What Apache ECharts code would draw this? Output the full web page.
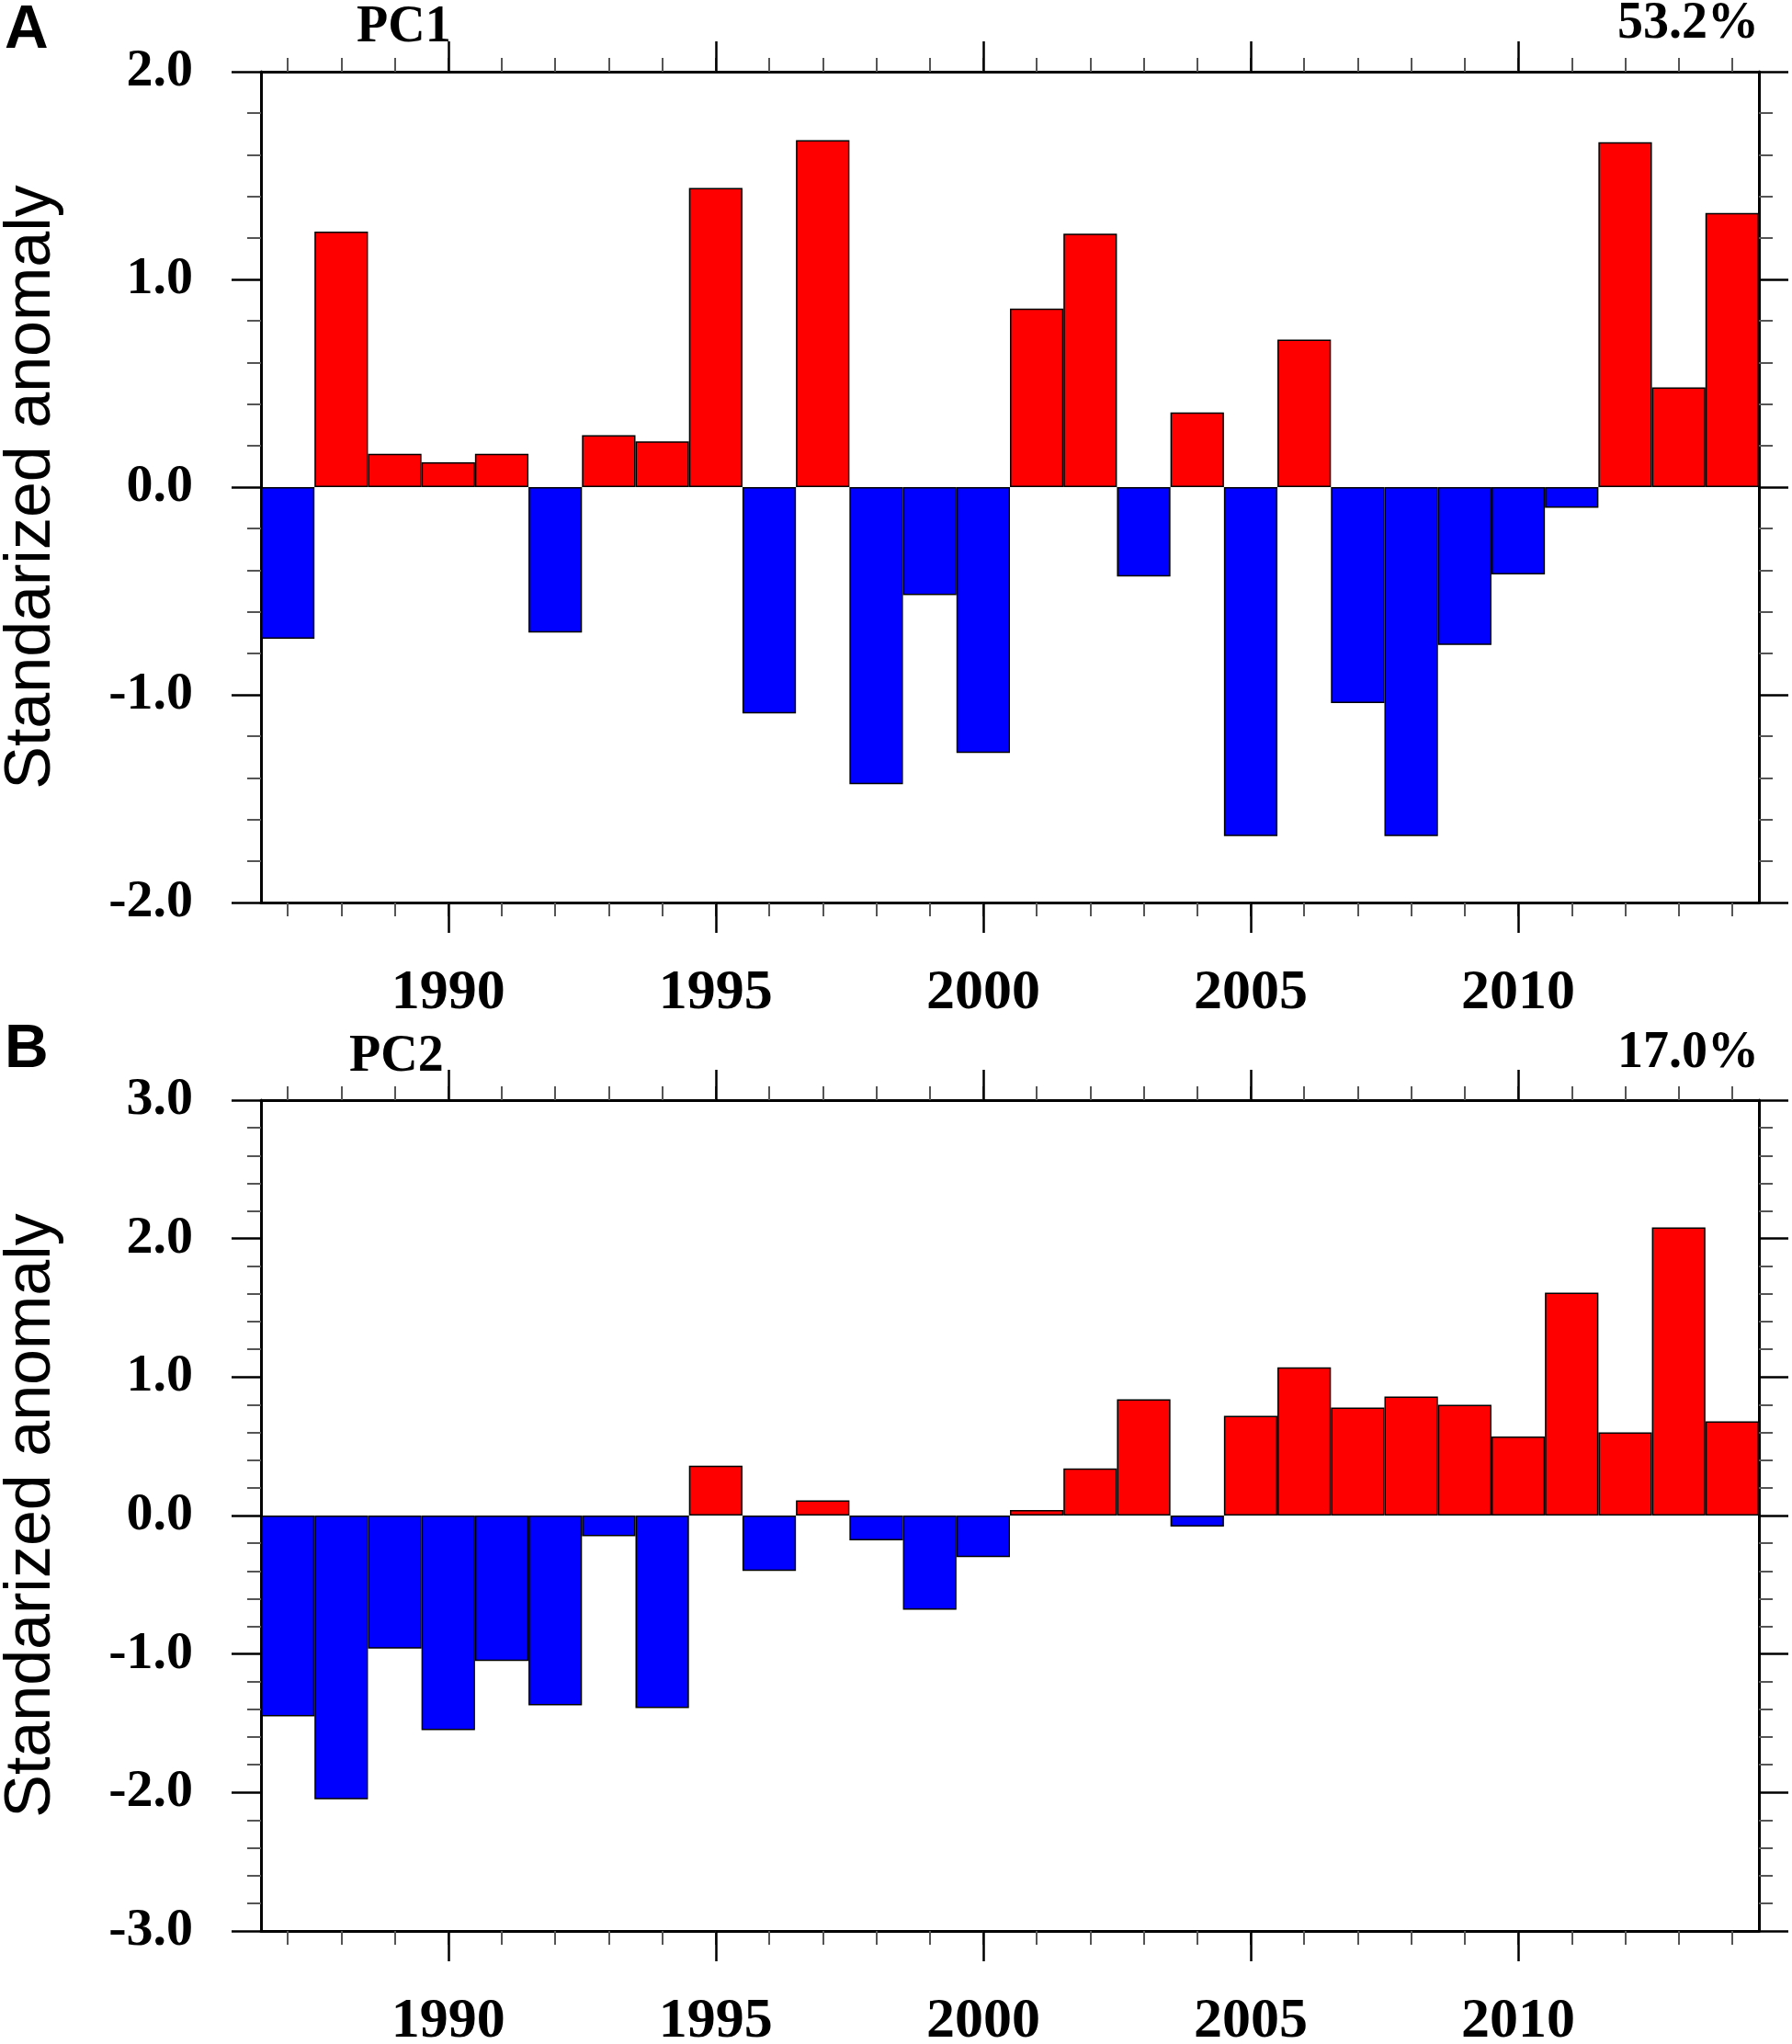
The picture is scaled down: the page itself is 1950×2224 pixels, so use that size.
<!DOCTYPE html>
<html><head><meta charset="utf-8">
<script src="https://cdn.jsdelivr.net/npm/echarts@6/dist/echarts.min.js"></script>
<style>html,body{margin:0;padding:0;background:#fff}#c{width:1950px;height:2224px}</style>
</head><body><div id="c"></div>
<script>
// ---- data ----
const years = [1987,1988,1989,1990,1991,1992,1993,1994,1995,1996,1997,1998,1999,2000,
               2001,2002,2003,2004,2005,2006,2007,2008,2009,2010,2011,2012,2013,2014];
const pc1 = [-0.73,1.23,0.16,0.12,0.16,-0.70,0.25,0.22,1.44,-1.09,1.67,-1.43,-0.52,-1.28,
             0.86,1.22,-0.43,0.36,-1.68,0.71,-1.04,-1.68,-0.76,-0.42,-0.10,1.66,0.48,1.32];
const pc2 = [-1.45,-2.05,-0.96,-1.55,-1.05,-1.37,-0.15,-1.39,0.36,-0.40,0.11,-0.18,-0.68,-0.30,
             0.04,0.34,0.84,-0.08,0.72,1.07,0.78,0.86,0.80,0.57,1.61,0.60,2.08,0.68];
const majorYears = [1990,1995,2000,2005,2010];
const panelLetters = ['A','B'];
const pcNames = ['PC1','PC2'];
const varianceLabels = ['53.2%','17.0%'];
const yRanges = [[-2,2],[-3,3]];
const yTitle = 'Standarized anomaly';
const series = [pc1, pc2];

// ---- layout ----
const gridTops = [78,1197];
const gridH = 904, gridL = 284, gridR = 36;
const serif = '"Liberation Serif","Times New Roman",serif';
const sans = '"Liberation Sans",Arial,sans-serif';
const isMajor = (i, v) => majorYears.indexOf(Number(v)) >= 0;

const grid = [], xAxis = [], yAxis = [], ser = [], graphic = [];
for (let p = 0; p < 2; p++) {
  const g = {left: gridL, right: gridR, top: gridTops[p], height: gridH,
             containLabel:false, outerBoundsMode:'none'};
  grid.push(Object.assign({}, g), Object.assign({}, g));
  const gm = 2*p, go = 2*p+1;
  const minorTick = {show:true, alignWithLabel:true, interval:0, length:15, lineStyle:{color:'#555', width:2}};
  const majorTick = {show:true, alignWithLabel:true, interval:isMajor, length:33, lineStyle:{color:'#000', width:2.5}};
  const frameLine = {show:true, onZero:false, lineStyle:{color:'#000', width:3}};
  xAxis.push(
    {gridIndex:gm, type:'category', data:years, position:'bottom', boundaryGap:true,
     axisLine:frameLine, axisTick:minorTick, axisLabel:{show:false}, splitLine:{show:false}},
    {gridIndex:gm, type:'category', data:years, position:'top', boundaryGap:true,
     axisLine:frameLine, axisTick:minorTick, axisLabel:{show:false}, splitLine:{show:false}},
    {gridIndex:go, type:'category', data:years, position:'bottom', boundaryGap:true,
     axisLine:{show:false, onZero:false}, axisTick:majorTick,
     axisLabel:{show:true, interval:isMajor, margin:68, color:'#000',
       fontFamily:serif, fontWeight:'bold', fontSize:62}, splitLine:{show:false}},
    {gridIndex:go, type:'category', data:years, position:'top', boundaryGap:true,
     axisLine:{show:false, onZero:false}, axisTick:majorTick, axisLabel:{show:false}, splitLine:{show:false}}
  );
  const yMinor = {show:true, splitNumber:5, length:15, lineStyle:{color:'#555', width:2}};
  yAxis.push(
    {gridIndex:gm, type:'value', position:'left', min:yRanges[p][0], max:yRanges[p][1], interval:1,
     axisLine:{show:true, onZero:false, lineStyle:{color:'#000', width:3}},
     axisTick:{show:true, length:32, lineStyle:{color:'#000', width:2.5}},
     minorTick:yMinor, splitLine:{show:false}, minorSplitLine:{show:false},
     axisLabel:{show:true, margin:74, color:'#000', fontFamily:serif, fontWeight:'bold', fontSize:58,
       formatter:v => v.toFixed(1)},
     name:yTitle, nameLocation:'middle', nameGap:214,
     nameTextStyle:{fontFamily:sans, fontSize:70, color:'#000'}},
    {gridIndex:gm, type:'value', position:'right', min:yRanges[p][0], max:yRanges[p][1], interval:1,
     axisLine:{show:true, onZero:false, lineStyle:{color:'#000', width:3}},
     axisTick:{show:true, length:32, lineStyle:{color:'#000', width:2.5}},
     minorTick:yMinor, splitLine:{show:false}, axisLabel:{show:false}},
    {gridIndex:go, type:'value', min:yRanges[p][0], max:yRanges[p][1], interval:1, show:false}
  );
  ser.push({
    type:'bar', xAxisIndex:4*p, yAxisIndex:3*p, data:series[p],
    barCategoryGap:'0%', silent:true,
    itemStyle:{color: prm => prm.value >= 0 ? '#ff0000' : '#0000ff', borderColor:'#000', borderWidth:1.5}
  });
}

const letterY = [34, 1143];
const pcY = [31, 1151];
const pctY = [27, 1147];
const pcX = [388, 380];
for (let p = 0; p < 2; p++) {
  graphic.push(
    {type:'text', x:5, y:letterY[p], style:{text:panelLetters[p], fill:'#000',
      font:'bold 66px ' + sans, verticalAlign:'middle', align:'left'}},
    {type:'text', x:pcX[p], y:pcY[p], style:{text:pcNames[p], fill:'#000',
      font:'bold 56px ' + serif, verticalAlign:'middle', align:'left'}},
    {type:'text', x:1914, y:pctY[p], style:{text:varianceLabels[p], fill:'#000',
      font:'bold 56px ' + serif, verticalAlign:'middle', align:'right'}}
  );
}

const chart = echarts.init(document.getElementById('c'), null, {renderer:'canvas'});
chart.setOption({animation:false, backgroundColor:'#fff', grid, xAxis, yAxis, series:ser, graphic});
</script></body></html>
